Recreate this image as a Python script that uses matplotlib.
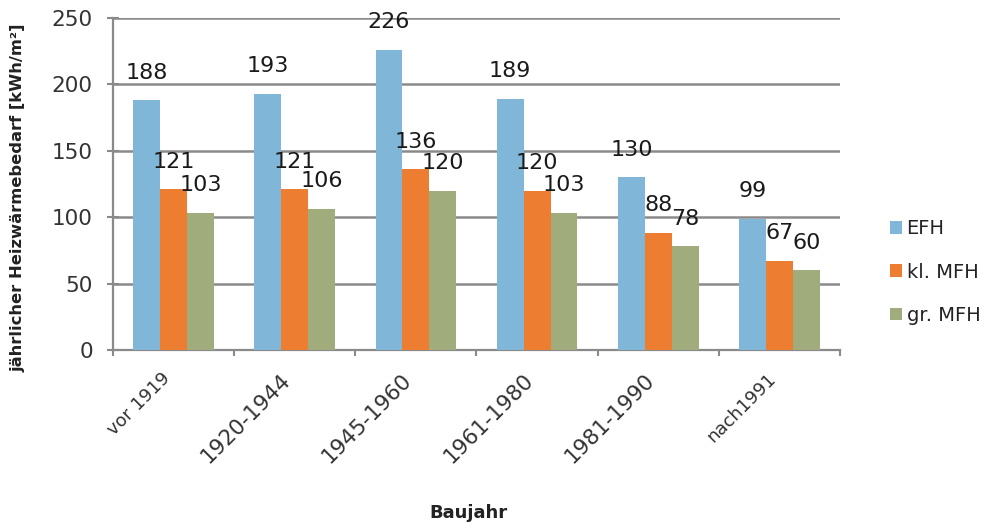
import matplotlib
matplotlib.use("Agg")
import matplotlib.pyplot as plt
import numpy as np

# data
categories = ["vor 1919", "1920-1944", "1945-1960", "1961-1980", "1981-1990", "nach1991"]
efh = [188, 193, 226, 189, 130, 99]
kl_mfh = [121, 121, 136, 120, 88, 67]
gr_mfh = [103, 106, 120, 103, 78, 60]
series_names = ["EFH", "kl. MFH", "gr. MFH"]
colors = ["#80B7D8", "#ED7D31", "#A1AC7D"]

plt.rcParams['font.family'] = ['DejaVu Sans']
grid_col = "#8A8A8A"

fig = plt.figure(figsize=(9.95, 5.3), dpi=100)
ax = fig.add_axes([113/995, 1-350/530, 727/995, 332/530])

x = np.arange(len(categories))
w = 0.222
for k, vals in enumerate([efh, kl_mfh, gr_mfh]):
    bars = ax.bar(x + (k-1)*w, vals, w, color=colors[k], label=series_names[k], zorder=3)
    for b, v in zip(bars, vals):
        ax.annotate(str(v), (b.get_x()+b.get_width()/2, v), xytext=(0, 20),
                    textcoords='offset points', ha='center', va='center',
                    fontsize=16, color='#1a1a1a', zorder=5)

ax.set_xlim(-0.5, len(categories)-0.5)
ax.set_ylim(0, 250)
ax.set_yticks(np.arange(0, 251, 50))
ax.yaxis.grid(True, color=grid_col, linewidth=1.8, zorder=0)
ax.set_axisbelow(True)
for s in ['top', 'right']:
    ax.spines[s].set_visible(False)
for s in ['left', 'bottom']:
    ax.spines[s].set_color(grid_col)
    ax.spines[s].set_linewidth(1.6)

ax.tick_params(axis='y', direction='inout', length=9, width=1.5, color=grid_col,
               labelsize=15.5, labelcolor='#333333', pad=10)
ax.set_xticks(x)
ax.set_xticks(np.arange(-0.5, len(categories), 1), minor=True)
ax.tick_params(axis='x', which='major', length=0, pad=14)
ax.tick_params(axis='x', which='minor', direction='out', length=4, width=1.5, color=grid_col)
ax.set_xticklabels(categories, rotation=45, ha='right', color='#333333')
for i, t in enumerate(ax.get_xticklabels()):
    t.set_fontsize(13 if i in (0, 5) else 15.5)

fig.text(18/995, 1-198/530, "jährlicher Heizwärmebedarf [kWh/m²]", rotation=90,
         ha='center', va='center', fontsize=11.8, fontweight='bold', color='#222222')
fig.text(468/995, 1-513/530, "Baujahr", ha='center', va='center',
         fontsize=13, fontweight='bold', color='#222222')

fig.legend(loc='center left', bbox_to_anchor=(890/995, 1-272/530), frameon=False,
           fontsize=14, handlelength=0.6, handleheight=0.6, handletextpad=0.25,
           labelspacing=1.25, borderpad=0, borderaxespad=0, labelcolor='#222222')

fig.savefig("out.png", dpi=100)
